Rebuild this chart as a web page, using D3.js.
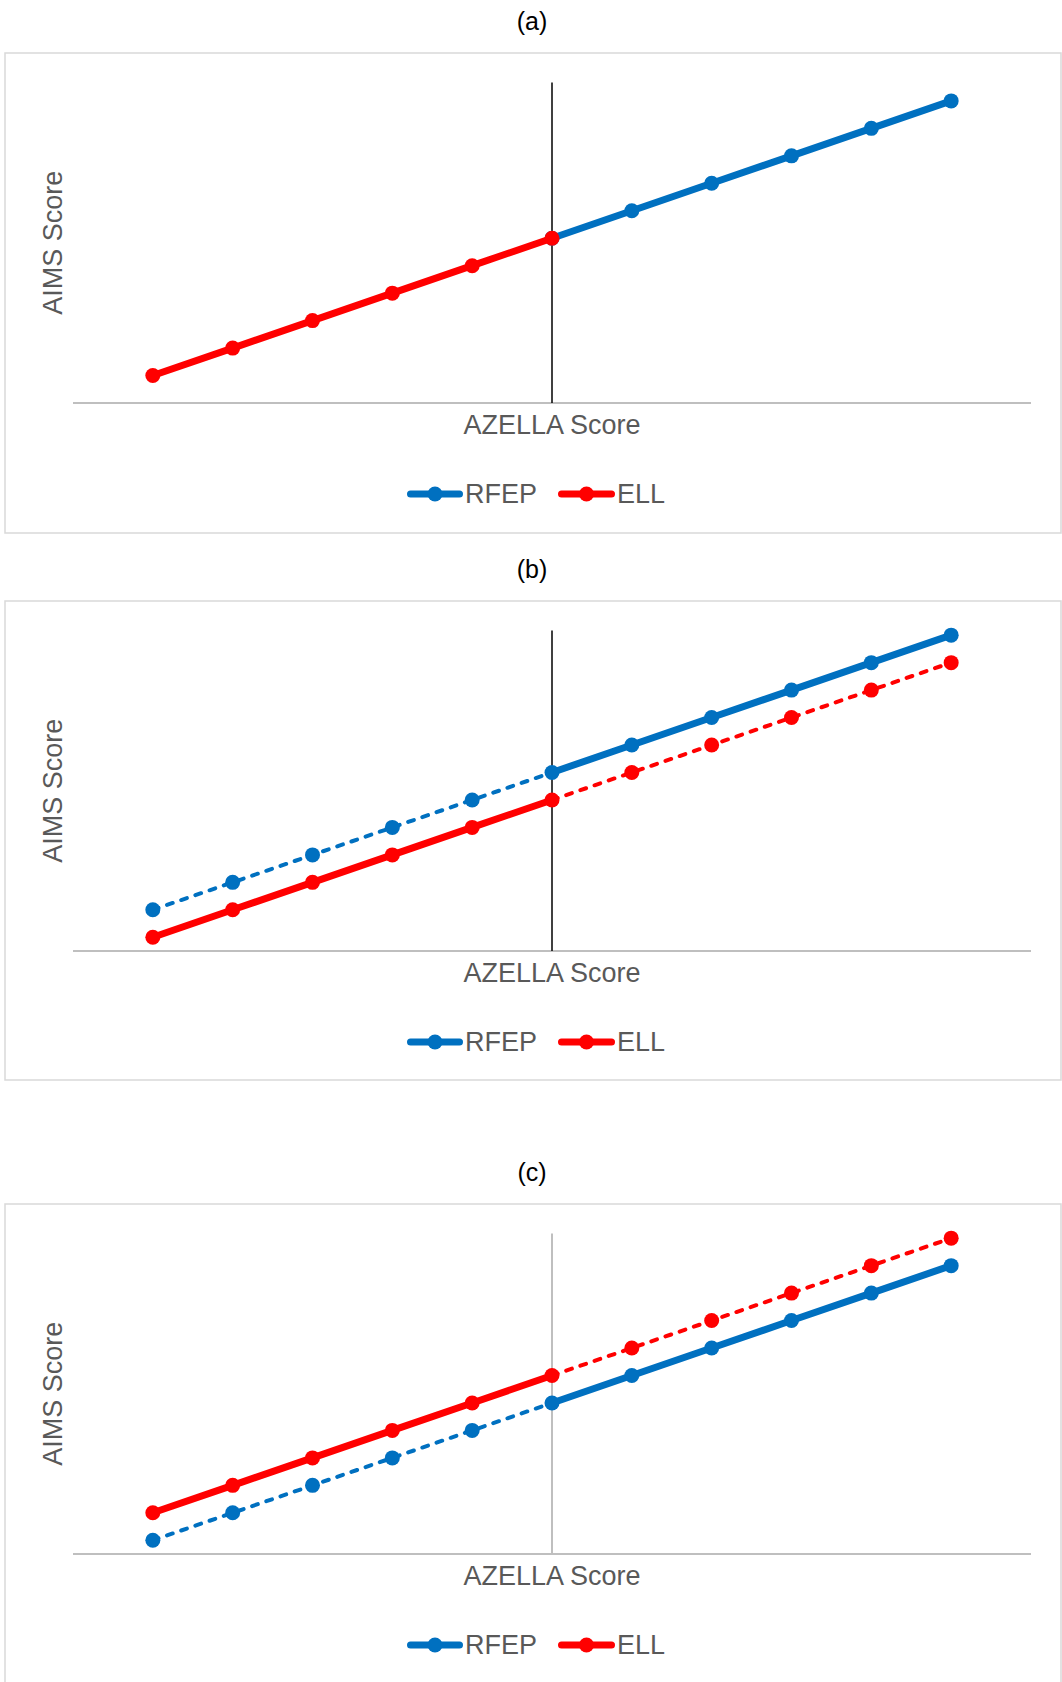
<!DOCTYPE html>
<html>
<head>
<meta charset="utf-8">
<script src="https://cdn.jsdelivr.net/npm/d3@7"></script>
<style>
  html, body { margin: 0; padding: 0; background: #fff; }
  svg { display: block; }
  text { font-family: "Liberation Sans", Arial, sans-serif; }
</style>
</head>
<body>
<svg id="chart" width="1062" height="1682"></svg>
<script>
// AZELLA score categories (x positions) and the reclassification cut score
const azella = [1, 2, 3, 4, 5, 6, 7, 8, 9, 10, 11];
const cutScore = 6;

// Panel (a): ELL below the cut, RFEP above it
const rfepA = [null, null, null, null, null, 6, 7, 8, 9, 10, 11];
const ellA  = [1, 2, 3, 4, 5, 6, null, null, null, null, null];

// Panel (b): RFEP scores above ELL scores
const rfepB = [1.5, 2.5, 3.5, 4.5, 5.5, 6.5, 7.5, 8.5, 9.5, 10.5, 11.5];
const ellB  = [0.5, 1.5, 2.5, 3.5, 4.5, 5.5, 6.5, 7.5, 8.5, 9.5, 10.5];

// Panel (c): ELL scores above RFEP scores
const rfepC = [0.5, 1.5, 2.5, 3.5, 4.5, 5.5, 6.5, 7.5, 8.5, 9.5, 10.5];
const ellC  = [1.5, 2.5, 3.5, 4.5, 5.5, 6.5, 7.5, 8.5, 9.5, 10.5, 11.5];

const panelTitles = ["(a)", "(b)", "(c)"];
const seriesNames = ["RFEP", "ELL"];
const xTitle = "AZELLA Score";
const yTitle = "AIMS Score";

const COLORS = { RFEP: "#0070C0", ELL: "#FF0000" };
const TEXT_GRAY = "#595959";

const panels = [
  { title: panelTitles[0], boxTop: 53,   boxBottom: 533,  rfep: rfepA, ell: ellA,
    cutColor: "#000", cutWidth: 1.5 },
  { title: panelTitles[1], boxTop: 601,  boxBottom: 1080, rfep: rfepB, ell: ellB,
    cutColor: "#000", cutWidth: 1.5 },
  { title: panelTitles[2], boxTop: 1204, boxBottom: 1700, rfep: rfepC, ell: ellC,
    cutColor: "#BFBFBF", cutWidth: 2 }
];

const svg = d3.select("#chart");
const W = 1062;
const plotLeft = 73, plotRight = 1031;
const axisOffset = 350;     // distance from box top to the x axis
const plotHeight = 320.5;   // height of the plotting area above the x axis
const yMax = 11.67;

const x = d3.scaleLinear().domain([0, 12]).range([plotLeft, plotRight]);

panels.forEach(p => {
  const g = svg.append("g");
  const axisY = p.boxTop + axisOffset;
  const y = d3.scaleLinear().domain([0, yMax]).range([axisY, axisY - plotHeight]);

  // panel title
  g.append("text")
    .attr("x", W / 2 + 1).attr("y", p.boxTop - 32)
    .attr("text-anchor", "middle").attr("dominant-baseline", "central")
    .attr("font-size", 25).attr("fill", "#000")
    .text(p.title);

  // chart frame
  g.append("rect")
    .attr("x", 5).attr("y", p.boxTop)
    .attr("width", 1056).attr("height", p.boxBottom - p.boxTop)
    .attr("fill", "#fff").attr("stroke", "#D9D9D9").attr("stroke-width", 1.5);

  // x axis line
  g.append("line")
    .attr("x1", plotLeft).attr("x2", plotRight)
    .attr("y1", axisY).attr("y2", axisY)
    .attr("stroke", "#BFBFBF").attr("stroke-width", 2);

  // cut score marker line
  g.append("line")
    .attr("x1", x(cutScore)).attr("x2", x(cutScore))
    .attr("y1", y(0)).attr("y2", y(yMax))
    .attr("stroke", p.cutColor).attr("stroke-width", p.cutWidth);

  // axis titles
  g.append("text")
    .attr("x", (plotLeft + plotRight) / 2).attr("y", axisY + 22)
    .attr("text-anchor", "middle").attr("dominant-baseline", "central")
    .attr("font-size", 27).attr("fill", TEXT_GRAY)
    .text(xTitle);

  g.append("text")
    .attr("transform", `translate(53,${axisY - plotHeight / 2}) rotate(-90)`)
    .attr("text-anchor", "middle").attr("dominant-baseline", "central")
    .attr("font-size", 27).attr("fill", TEXT_GRAY)
    .text(yTitle);

  const line = d3.line()
    .defined(d => d.v != null)
    .x(d => x(d.x)).y(d => y(d.v));

  // RFEP is solid at and above the cut, ELL is solid at and below it
  function drawSeries(values, color, solidBelow) {
    const pts = azella.map((a, i) => ({ x: a, v: values[i] }));
    const segs = [
      { data: pts.filter(d => d.x <= cutScore), solid: solidBelow },
      { data: pts.filter(d => d.x >= cutScore), solid: !solidBelow }
    ];
    segs.forEach(s => {
      if (s.data.filter(d => d.v != null).length < 2) return;
      g.append("path")
        .attr("d", line(s.data))
        .attr("fill", "none")
        .attr("stroke", color)
        .attr("stroke-width", s.solid ? 7 : 4)
        .attr("stroke-dasharray", s.solid ? null : "6,9")
        .attr("stroke-linecap", s.solid ? "butt" : "round")
        .attr("stroke-linejoin", "round");
    });
    g.selectAll(null)
      .data(pts.filter(d => d.v != null))
      .enter().append("circle")
      .attr("cx", d => x(d.x)).attr("cy", d => y(d.v))
      .attr("r", 7.5).attr("fill", color);
  }

  drawSeries(p.rfep, COLORS.RFEP, false);
  drawSeries(p.ell, COLORS.ELL, true);

  // legend
  const legendY = axisY + 91;
  const legendItems = [
    { name: seriesNames[0], x0: 407, x1: 463 },
    { name: seriesNames[1], x0: 558, x1: 615 }
  ];
  legendItems.forEach(it => {
    const c = COLORS[it.name];
    g.append("line")
      .attr("x1", it.x0 + 3.5).attr("x2", it.x1 - 3.5)
      .attr("y1", legendY).attr("y2", legendY)
      .attr("stroke", c).attr("stroke-width", 7).attr("stroke-linecap", "round");
    g.append("circle")
      .attr("cx", (it.x0 + it.x1) / 2).attr("cy", legendY)
      .attr("r", 7.5).attr("fill", c);
    g.append("text")
      .attr("x", it.x1 + 2).attr("y", legendY)
      .attr("dominant-baseline", "central")
      .attr("font-size", 27).attr("fill", TEXT_GRAY)
      .text(it.name);
  });
});
</script>
</body>
</html>
